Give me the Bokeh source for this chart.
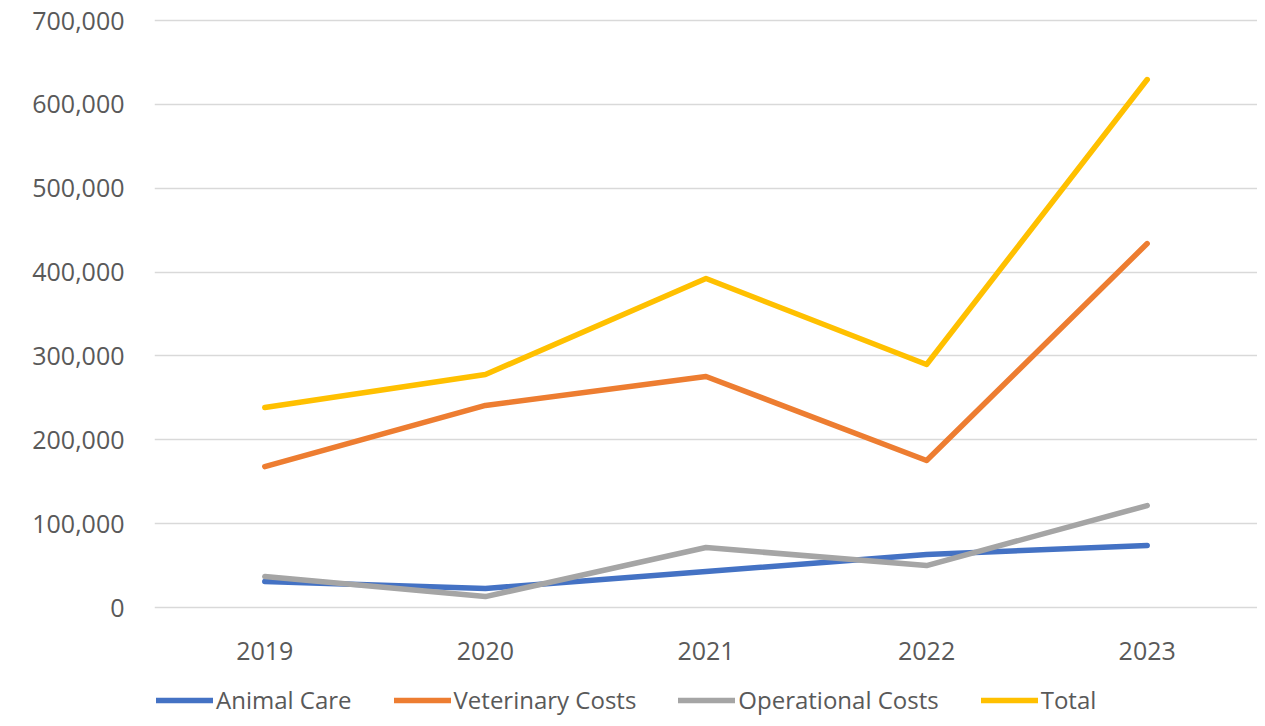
from bokeh.plotting import figure
from bokeh.models import ColumnDataSource, FactorRange, Range1d, Legend, LegendItem, NumeralTickFormatter, FixedTicker
from bokeh.core.properties import value
from bokeh.embed import file_html
from bokeh.resources import INLINE

years = ["2019", "2020", "2021", "2022", "2023"]
animal_care = [31000, 22700, 43000, 63200, 74000]
veterinary_costs = [168000, 241000, 275500, 175300, 434000]
operational_costs = [37000, 13000, 71500, 50000, 121600]
total = [238500, 277800, 392300, 289800, 629600]
y_ticks = [0, 100000, 200000, 300000, 400000, 500000, 600000, 700000]

series_names = ["Animal Care", "Veterinary Costs", "Operational Costs", "Total"]
series_values = [animal_care, veterinary_costs, operational_costs, total]
colors = ["#4472C4", "#ED7D31", "#A5A5A5", "#FFC000"]

FONT = "Open Sans"
TXT = "#595959"

# layout: 700,000 sits 587 px above 0; frame from y=16 to y=718 on screen
units_per_px = 700000 / 587.0
frame_h = 702
y_top = 591 * units_per_px
y_bottom = -111 * units_per_px

p = figure(
    x_range=FactorRange(*years, range_padding=0),
    y_range=Range1d(y_bottom, y_top),
    frame_width=1103, frame_height=frame_h,
    min_border_left=154, min_border_right=0, min_border_top=16, min_border_bottom=0,
    output_backend="svg", toolbar_location=None,
)
p.outline_line_color = None
p.background_fill_color = "white"

renderers = []
for name, vals, c in zip(series_names, series_values, colors):
    src = ColumnDataSource(dict(x=years, y=vals))
    r = p.line("x", "y", source=src, line_color=c, line_width=5.5,
               line_cap="round", line_join="round")
    renderers.append((name, r))

# category labels drawn below the zero line
lab_src = ColumnDataSource(dict(x=years, y=[-43 * units_per_px] * len(years), t=years))
p.text("x", "y", text="t", source=lab_src, text_font=value(FONT),
       text_font_size=value("25px"), text_color=TXT,
       text_align="center", text_baseline="middle")

ticker = FixedTicker(ticks=y_ticks)
p.xgrid.grid_line_color = None
p.ygrid.ticker = ticker
p.ygrid.grid_line_color = "#D9D9D9"
p.ygrid.grid_line_width = 1.5
p.yaxis.ticker = ticker
p.yaxis.formatter = NumeralTickFormatter(format="0,0")
p.xaxis.visible = False

ax = p.yaxis[0]
ax.axis_line_color = None
ax.major_tick_line_color = None
ax.minor_tick_line_color = None
ax.major_tick_out = 0
ax.major_tick_in = 0
ax.minor_tick_out = 0
ax.major_label_text_font = FONT
ax.major_label_text_font_size = "25px"
ax.major_label_text_color = TXT
ax.major_label_standoff = 30

legend = Legend(
    items=[LegendItem(label=n, renderers=[r]) for n, r in renderers],
    orientation="horizontal",
    location=(2, 2),
    label_text_font=FONT,
    label_text_font_size="24px",
    label_text_color=TXT,
    glyph_width=57,
    glyph_height=20,
    label_standoff=3,
    spacing=42,
    padding=0,
    margin=0,
    border_line_color=None,
    background_fill_alpha=0,
)
p.add_layout(legend, "center")

open("out.html", "w").write(file_html(p, INLINE))
